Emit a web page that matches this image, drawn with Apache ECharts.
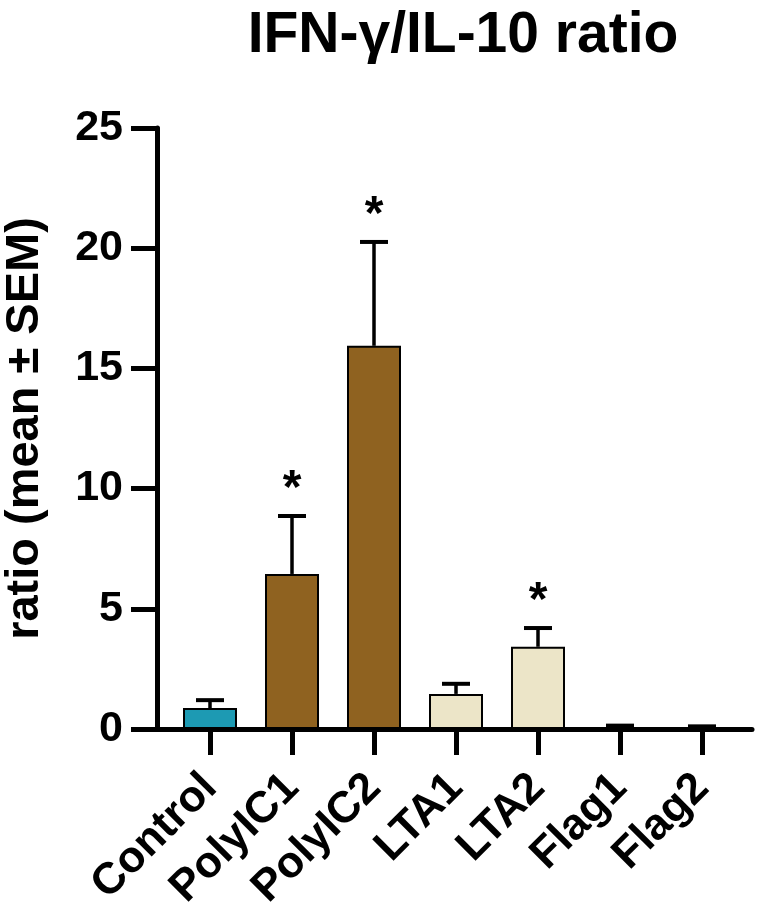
<!DOCTYPE html>
<html>
<head>
<meta charset="utf-8">
<script src="https://cdn.jsdelivr.net/npm/echarts@6/dist/echarts.min.js"></script>
<style>
  html, body { margin: 0; padding: 0; background: #fff; }
  #chart { width: 768px; height: 919px; }
</style>
</head>
<body>
<div id="chart"></div>
<script>
const FONT = "'Liberation Sans', Arial, sans-serif";

const categories = ['Control', 'PolyIC1', 'PolyIC2', 'LTA1', 'LTA2', 'Flag1', 'Flag2'];
const means = [0.87, 6.45, 15.94, 1.46, 3.42, 0.06, 0.05];
const sems = [0.33, 2.41, 4.32, 0.42, 0.78, 0.08, 0.06];
const stars = ['', '*', '*', '', '*', '', ''];
const barColors = ['#1d9ab3', '#8f6220', '#8f6220', '#ece5c8', '#ece5c8', '#ece5c8', '#ece5c8'];
const yTicks = [0, 5, 10, 15, 20, 25];

const chart = echarts.init(document.getElementById('chart'));

const gridTop = 128, gridBottom = 190;

var option = {
    backgroundColor: '#fff',
    animation: false,
    title: {
        text: 'IFN-γ/IL-10 ratio',
        left: 458,
        top: 3,
        textAlign: 'center',
        textStyle: { fontFamily: FONT, fontWeight: 'bold', fontSize: 57, color: '#000' }
    },
    grid: [
        { left: 157, right: 16, top: gridTop, bottom: gridBottom, outerBoundsMode: 'none', containLabel: false },
        { left: 169, right: 25, top: gridTop, bottom: gridBottom, outerBoundsMode: 'none', containLabel: false }
    ],
    xAxis: [{
        gridIndex: 0,
        type: 'value',
        min: 0,
        max: 1,
        axisLine: { show: true, lineStyle: { color: '#000', width: 5 } },
        axisTick: { show: false },
        axisLabel: { show: false },
        splitLine: { show: false }
    }, {
        gridIndex: 1,
        type: 'category',
        data: categories,
        axisLine: { show: false },
        axisTick: { show: true, alignWithLabel: true, length: 26, lineStyle: { color: '#000', width: 5 } },
        axisLabel: {
            rotate: 45,
            margin: 52,
            interval: 0,
            fontFamily: FONT,
            fontWeight: 'bold',
            fontSize: 44,
            color: '#000'
        }
    }],
    yAxis: [{
        gridIndex: 0,
        type: 'value',
        min: 0,
        max: 25,
        interval: 5,
        name: 'ratio (mean ± SEM)',
        nameLocation: 'middle',
        nameGap: 108,
        nameTextStyle: { fontFamily: FONT, fontWeight: 'bold', fontSize: 47, color: '#000' },
        axisLine: { show: true, lineStyle: { color: '#000', width: 5 } },
        axisTick: { show: true, length: 26, lineStyle: { color: '#000', width: 5 } },
        axisLabel: {
            margin: 34,
            fontFamily: FONT,
            fontWeight: 'bold',
            fontSize: 43,
            color: '#000',
            customValues: yTicks
        },
        splitLine: { show: false }
    }, {
        gridIndex: 1,
        type: 'value',
        min: 0,
        max: 25,
        show: false
    }],
    series: [{
        type: 'bar',
        xAxisIndex: 1,
        yAxisIndex: 1,
        barWidth: 54,
        data: means.map((v, i) => ({
            value: v,
            itemStyle: { color: barColors[i] }
        })),
        itemStyle: { borderColor: '#000', borderWidth: 2 },
        z: 2
    }, {
        type: 'custom',
        xAxisIndex: 1,
        yAxisIndex: 1,
        data: means.map((v, i) => [i, v, v + sems[i]]),
        z: 3,
        renderItem: function (params, api) {
            const i = api.value(0);
            const base = api.coord([i, api.value(1)]);
            const top = api.coord([i, api.value(2)]);
            const capHalf = 14;
            const children = [{
                type: 'line',
                shape: { x1: base[0], y1: base[1], x2: top[0], y2: top[1] },
                style: { stroke: '#000', lineWidth: 3.5 }
            }, {
                type: 'line',
                shape: { x1: top[0] - capHalf, y1: top[1], x2: top[0] + capHalf, y2: top[1] },
                style: { stroke: '#000', lineWidth: 4 }
            }];
            if (stars[i]) {
                children.push({
                    type: 'text',
                    style: {
                        text: stars[i],
                        x: top[0],
                        y: top[1] - 26,
                        align: 'center',
                        verticalAlign: 'middle',
                        fontFamily: FONT,
                        fontWeight: 'bold',
                        fontSize: 48,
                        fill: '#000'
                    }
                });
            }
            return { type: 'group', children: children };
        }
    }]
};
chart.setOption(option);
</script>
</body>
</html>
